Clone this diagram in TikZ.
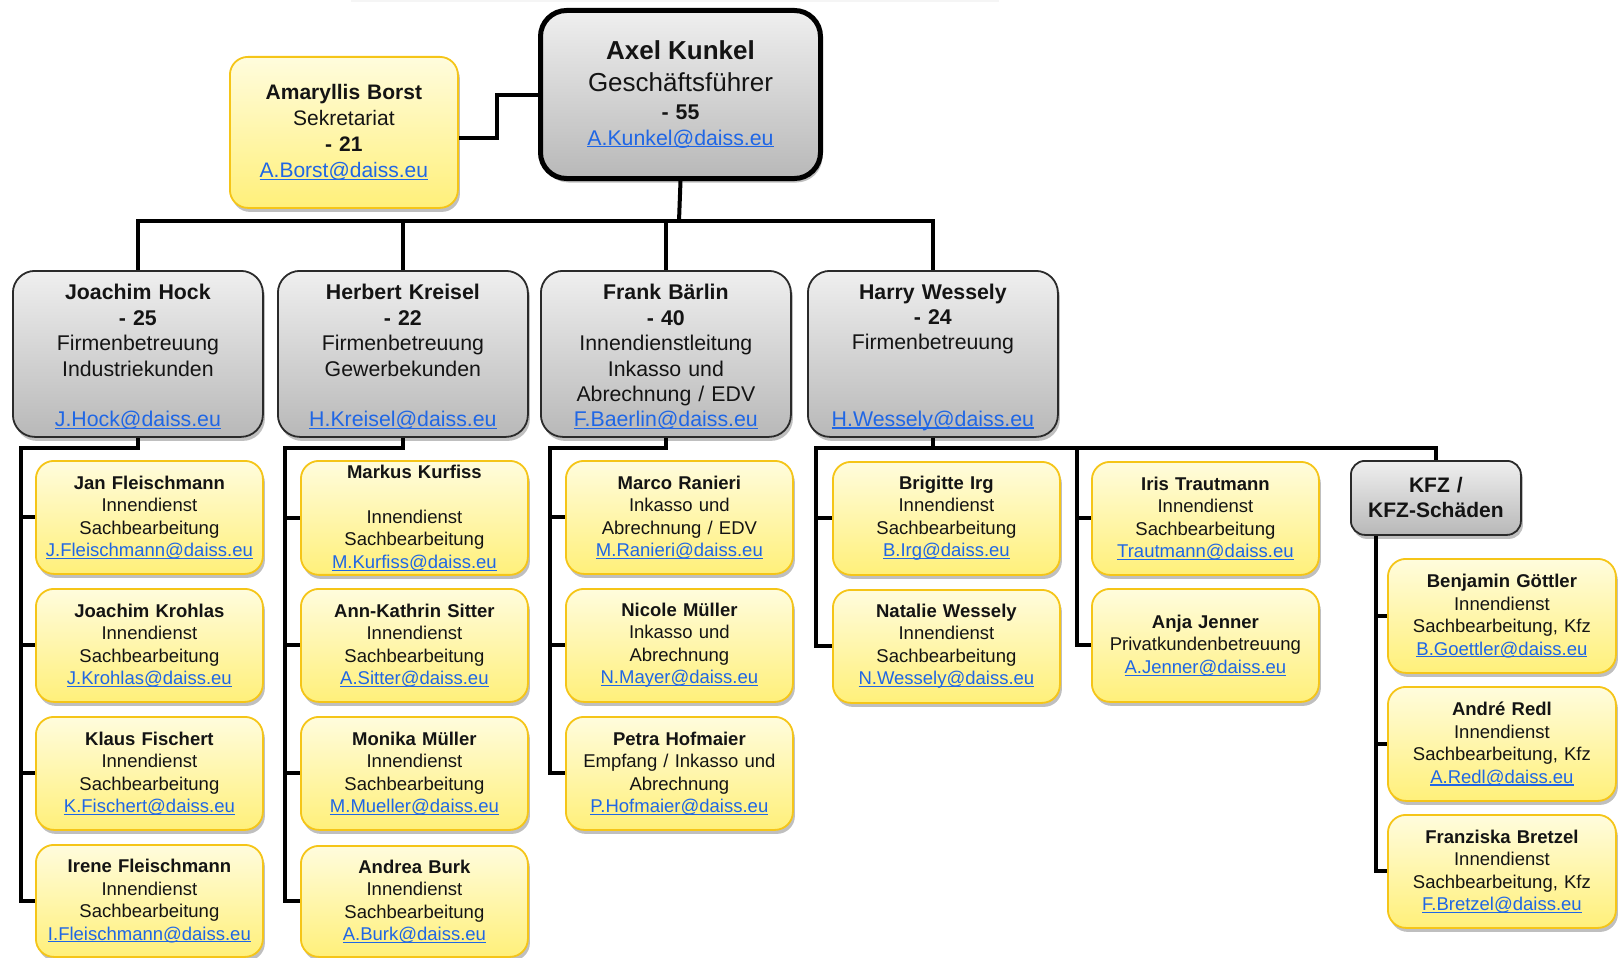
\documentclass[tikz,border=0pt]{standalone}
\usepackage{fontspec}
\setmainfont{Liberation Sans}
\usetikzlibrary{shadows}
\definecolor{gtop}{HTML}{EFEFEF}
\definecolor{gbot}{HTML}{B8B8B8}
\definecolor{gline}{HTML}{2A2A2A}
\definecolor{ytop}{HTML}{FFFCDD}
\definecolor{ybot}{HTML}{FFF07A}
\definecolor{yline}{HTML}{F5C518}
\definecolor{linkblue}{HTML}{1F66E5}
\newcommand\emaillink[1]{\textcolor{linkblue}{\setbox0\hbox{#1}\rlap{\rule[-2.4pt]{\wd0}{1.1pt}}\box0}}
\newcommand\topstrut{\rule{0pt}{22pt}}
\pgfdeclarelayer{bg}
\pgfsetlayers{bg,main}
\tikzset{
  base/.style={anchor=north west, align=center, inner sep=4pt, text=black!92,
    drop shadow={shadow xshift=2pt, shadow yshift=-4pt, opacity=0.25, fill=black}},
  gbox/.style={base, draw=gline, line width=1.8pt, rounded corners=22pt,
    top color=gtop, bottom color=gbot, font=\fontsize{21.3}{25.4}\selectfont},
  ybox/.style={base, draw=yline, line width=1.8pt, rounded corners=18pt,
    top color=ytop, bottom color=ybot, font=\fontsize{18.5}{22.5}\selectfont},
  lead/.style={gbox, text width=242pt, minimum height=166pt},
  child/.style={ybox, text width=219pt, minimum height=113pt},
  conn/.style={line width=4pt, line join=miter, draw=black},
}
\begin{document}
\begin{tikzpicture}[x=1pt,y=-1pt]
\useasboundingbox (0,0) rectangle (1620,958);
\fill[black!4] (351,0) rectangle (999,2.5);

% top
\node[gbox, draw=black, line width=5pt, rounded corners=26pt, text width=272pt, minimum height=168pt] (axel) at (538,8)
  {{\fontsize{26}{30}\selectfont\textbf{Axel Kunkel}}\\[6pt]
   {\fontsize{26}{30}\selectfont Geschäftsführer}\\[3pt]
   \textbf{- 55}\\
   \emaillink{A.Kunkel@daiss.eu}};
\node[ybox, font=\fontsize{21}{25.8}\selectfont, text width=220pt, minimum height=151pt] (borst) at (229,56)
  {\textbf{Amaryllis Borst}\\Sekretariat\\\textbf{- 21}\\\emaillink{A.Borst@daiss.eu}};

% level 2
\node[lead] (hock) at (12,270)
  {\topstrut\textbf{Joachim Hock}\\\textbf{- 25}\\Firmenbetreuung\\Industriekunden\\~\\\emaillink{J.Hock@daiss.eu}};
\node[lead] (kreisel) at (277,270)
  {\topstrut\textbf{Herbert Kreisel}\\\textbf{- 22}\\Firmenbetreuung\\Gewerbekunden\\~\\\emaillink{H.Kreisel@daiss.eu}};
\node[lead] (baerlin) at (540,270)
  {\topstrut\textbf{Frank Bärlin}\\\textbf{- 40}\\Innendienstleitung\\Inkasso und\\Abrechnung / EDV\\\emaillink{F.Baerlin@daiss.eu}};
\node[lead] (wessely) at (807,270)
  {\topstrut\textbf{Harry Wessely}\\\textbf{- 24}\\Firmenbetreuung\\~\\~\\\emaillink{H.Wessely@daiss.eu}};

% Hock column
\node[child] (jan) at (35,460)
  {\textbf{Jan Fleischmann}\\Innendienst\\Sachbearbeitung\\\emaillink{J.Fleischmann@daiss.eu}};
\node[child] (krohlas) at (35,588)
  {\textbf{Joachim Krohlas}\\Innendienst\\Sachbearbeitung\\\emaillink{J.Krohlas@daiss.eu}};
\node[child] (fischert) at (35,716)
  {\textbf{Klaus Fischert}\\Innendienst\\Sachbearbeitung\\\emaillink{K.Fischert@daiss.eu}};
\node[child, minimum height=112pt] (irene) at (35,844)
  {\textbf{Irene Fleischmann}\\Innendienst\\Sachbearbeitung\\\emaillink{I.Fleischmann@daiss.eu}};

% Kreisel column
\node[child] (kurfiss) at (300,460)
  {\textbf{Markus Kurfiss}\\~\\Innendienst\\Sachbearbeitung\\\emaillink{M.Kurfiss@daiss.eu}};
\node[child] (sitter) at (300,588)
  {\textbf{Ann-Kathrin Sitter}\\Innendienst\\Sachbearbeitung\\\emaillink{A.Sitter@daiss.eu}};
\node[child] (mmueller) at (300,716)
  {\textbf{Monika Müller}\\Innendienst\\Sachbearbeitung\\\emaillink{M.Mueller@daiss.eu}};
\node[child, minimum height=111pt] (burk) at (300,845)
  {\textbf{Andrea Burk}\\Innendienst\\Sachbearbeitung\\\emaillink{A.Burk@daiss.eu}};

% Baerlin column
\node[child] (ranieri) at (565,460)
  {\textbf{Marco Ranieri}\\Inkasso und\\Abrechnung / EDV\\\emaillink{M.Ranieri@daiss.eu}};
\node[child] (nmueller) at (565,588)
  {\textbf{Nicole Müller}\\Inkasso und\\Abrechnung\\\emaillink{N.Mayer@daiss.eu}};
\node[child] (hofmaier) at (565,716)
  {\textbf{Petra Hofmaier}\\Empfang / Inkasso und\\Abrechnung\\\emaillink{P.Hofmaier@daiss.eu}};

% Wessely columns
\node[child] (irg) at (832,461)
  {\textbf{Brigitte Irg}\\Innendienst\\Sachbearbeitung\\\emaillink{B.Irg@daiss.eu}};
\node[child] (nwessely) at (832,589)
  {\textbf{Natalie Wessely}\\Innendienst\\Sachbearbeitung\\\emaillink{N.Wessely@daiss.eu}};
\node[child] (trautmann) at (1091,461)
  {\textbf{Iris Trautmann}\\Innendienst\\Sachbearbeitung\\\emaillink{Trautmann@daiss.eu}};
\node[child] (jenner) at (1091,588)
  {\textbf{Anja Jenner}\\Privatkundenbetreuung\\\emaillink{A.Jenner@daiss.eu}};
\node[gbox, rounded corners=14pt, text width=162pt, minimum height=74pt, font=\fontsize{21}{25}\selectfont\bfseries] (kfz) at (1350,460)
  {KFZ /\\KFZ-Schäden};
\node[child, text width=220pt, minimum height=114pt] (goettler) at (1387,558)
  {\textbf{Benjamin Göttler}\\Innendienst\\Sachbearbeitung, Kfz\\\emaillink{B.Goettler@daiss.eu}};
\node[child, text width=220pt, minimum height=114pt] (redl) at (1387,686)
  {\textbf{André Redl}\\Innendienst\\Sachbearbeitung, Kfz\\\emaillink{A.Redl@daiss.eu}};
\node[child, text width=220pt, minimum height=113pt] (bretzel) at (1387,814)
  {\textbf{Franziska Bretzel}\\Innendienst\\Sachbearbeitung, Kfz\\\emaillink{F.Bretzel@daiss.eu}};

% connectors
\coordinate (bus) at (679,221);
\coordinate (hb) at (21,448);
\coordinate (kb) at (285,448);
\coordinate (bb) at (550,448);
\coordinate (wl) at (816,448);
\coordinate (wm) at (1077,448);
\coordinate (kd) at (1376,534);
\begin{pgfonlayer}{bg}
\draw[conn] ([yshift=-5.5pt]borst.east) -| ([xshift=-41pt]axel.west) -- (axel.west);
\draw[conn] (axel.south) -- (bus);
\draw[conn] (hock.north) |- (bus) -| (wessely.north);
\draw[conn] (kreisel.north) -- (kreisel.north |- bus);
\draw[conn] (baerlin.north) -- (baerlin.north |- bus);

\draw[conn] (hock.south) |- (hb) |- (irene.west);
\draw[conn] (hb |- jan.west) -- (jan.west);
\draw[conn] (hb |- krohlas.west) -- (krohlas.west);
\draw[conn] (hb |- fischert.west) -- (fischert.west);

\draw[conn] (kreisel.south) |- (kb) |- (burk.west);
\draw[conn] (kb |- kurfiss.west) -- (kurfiss.west);
\draw[conn] (kb |- sitter.west) -- (sitter.west);
\draw[conn] (kb |- mmueller.west) -- (mmueller.west);

\draw[conn] (baerlin.south) |- (bb) |- (hofmaier.west);
\draw[conn] (bb |- ranieri.west) -- (ranieri.west);
\draw[conn] (bb |- nmueller.west) -- (nmueller.west);

\draw[conn] (wessely.south) -- (wessely.south |- wl);
\draw[conn] (nwessely.west) -| (wl) -| (kfz.north);
\draw[conn] (wl |- irg.west) -- (irg.west);
\draw[conn] (wm) |- (jenner.west);
\draw[conn] (wm |- trautmann.west) -- (trautmann.west);

\draw[conn] (kd) |- (bretzel.west);
\draw[conn] (kd |- goettler.west) -- (goettler.west);
\draw[conn] (kd |- redl.west) -- (redl.west);
\end{pgfonlayer}
\end{tikzpicture}
\end{document}
